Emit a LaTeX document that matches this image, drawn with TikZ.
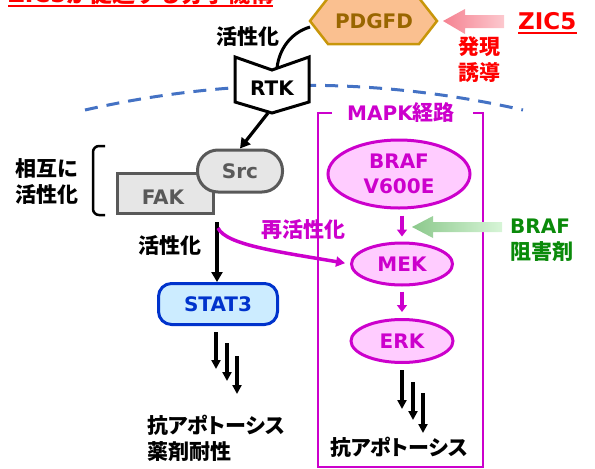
\documentclass[tikz,border=0pt]{standalone}
\usepackage{fontspec}
\setmainfont{DejaVu Sans}
\newfontfamily\jp{Noto Sans CJK JP}
\newfontfamily\jpp{Noto Sans CJK JP}[RawFeature=+palt]
\usetikzlibrary{arrows.meta,shapes.geometric}
\definecolor{mag}{HTML}{CC00CC}
\definecolor{pinkfill}{HTML}{FFCCFF}
\definecolor{pdfill}{HTML}{FAC090}
\definecolor{pdline}{HTML}{C8960A}
\definecolor{pdtext}{HTML}{996600}
\definecolor{grayfill}{HTML}{E6E6E6}
\definecolor{grayline}{HTML}{595959}
\definecolor{statfill}{HTML}{CCECFF}
\definecolor{statline}{HTML}{0033CC}
\definecolor{dashblue}{HTML}{4472C4}
\definecolor{drkgreen}{HTML}{0A8A0A}
\tikzset{
  lat/.style={font=\bfseries\fontsize{20}{25}\selectfont, inner sep=0},
  jtxt/.style={font=\jp\bfseries\fontsize{21}{26}\selectfont, inner sep=0},
  blk/.style={line width=3.2pt, -{Triangle[length=10pt,width=11pt]}},
  tri/.style={line width=3.2pt, -{Triangle[length=9pt,width=9pt]}},
  magarr/.style={mag, line width=3.2pt, -{Triangle[length=7pt,width=10pt]}},
  mapkell/.style={ellipse, fill=pinkfill, draw=mag, line width=3pt, inner sep=0, text=mag, align=center,
    font=\bfseries\fontsize{20}{25}\selectfont},
  grayshape/.style={fill=grayfill, draw=grayline, line width=3pt, inner sep=0}
}
\begin{document}
\begin{tikzpicture}[x=1pt,y=-1pt]
\useasboundingbox (0,0) rectangle (595,469);

% title (cut at top, as in the reference)
\node[anchor=base west, inner sep=0, text=red, font=\bfseries\fontsize{23}{23}\selectfont] (title) at (8,2)
  {ZIC5{\jp が促進する分子機構}};
\draw[red, line width=2pt] (title.base west) ++(0,4) -- ++(265,0);

% blue dashed membrane
\coordinate (memL) at (85,110);
\coordinate (memR) at (523,110);
\draw[dashblue, line width=3pt, dash pattern=on 13pt off 9pt] (memL) .. controls (231,77) and (377,77) .. (memR);

% PDGFD hexagon
\draw[fill=pdfill, draw=pdline, line width=2.5pt] (310,21) -- (328,-2) -- (419,-2) -- (437,21) -- (419,44) -- (328,44) -- cycle;
\node[lat, text=pdtext] (pdgfd) at (374,21) {PDGFD};
\coordinate (pdL) at (310,27);

% ZIC5 and pink arrow
\node[anchor=base west, inner sep=0, text=red, font=\bfseries\fontsize{23}{23}\selectfont] (zic) at (518,29) {ZIC5};
\draw[red, line width=2pt] (zic.base west) ++(0,3.5) -- ++(59,0);
\shade[left color={rgb,255:red,245;green,130;blue,145}, right color={rgb,255:red,252;green,200;blue,206}]
  (443,21) -- (465,9) -- (465,15) -- (504,15) -- (504,28) -- (465,28) -- (465,34) -- cycle;
\node[jtxt, text=red, align=center] (hatsu) at (479,60) {発現\\誘導};

% RTK
\draw[fill=white, line width=3pt, line join=miter] (235,57) -- (272,70) -- (309,57) -- (309,102) -- (272,113) -- (235,102) -- cycle;
\node[lat] (rtk) at (272,88) {RTK};
\coordinate (rtkT) at (277,68);
\coordinate (rtkB) at (268,113);
\node[jtxt] (act1) at (248,36) {活性化};
\draw[line width=3pt] (pdL) .. controls (290,33) and (279,50) .. (rtkT);

% FAK and Src
\node[grayshape, rectangle, minimum width=96pt, minimum height=40pt] (fak) at (165,193) {};
\node[lat, text=grayline] (faktxt) at (163,197) {FAK};
\node[grayshape, rectangle, rounded corners=20.5pt, minimum width=85pt, minimum height=42pt, text=grayline,
  font=\bfseries\fontsize{20}{25}\selectfont] (src) at (240,171) {Src};
\draw[blk] (rtkB) -- (src.north);
\draw[line width=2.5pt, rounded corners=6pt] (105,146) -- (93,146) -- (93,215) -- (105,215);
\node[jtxt, align=left, anchor=west] (mutual) at (15,181.5) {相互に\\活性化};

% STAT3
\node[rectangle, rounded corners=13pt, fill=statfill, draw=statline, line width=3pt, minimum width=119pt,
  minimum height=41pt, text=statline, font=\bfseries\fontsize{20}{25}\selectfont] (stat) at (218,304) {STAT3};
\coordinate (fakB) at (217,222);
\draw[blk] (fakB) -- (stat.north -| fakB);
\node[jtxt] (act2) at (170,245) {活性化};

% MAPK box
\draw[mag, line width=2pt] (332,113) -- (318,113) -- (318,467) -- (483,467) -- (483,113) -- (473,113);
\node[lat, text=mag] (mapk) at (401,113) {MAPK{\jp\fontsize{21}{26}\selectfont 経路}};

\node[mapkell, minimum width=142pt, minimum height=68pt] (braf) at (399,174) {BRAF\\V600E};
\node[mapkell, minimum width=101pt, minimum height=42pt] (mek) at (402,264) {MEK};
\node[mapkell, minimum width=102pt, minimum height=43pt] (erk) at (402,341) {ERK};
\draw[magarr, shorten <=6pt, shorten >=5pt] (braf.south -| mek.north) -- (mek.north);
\draw[magarr, shorten <=5pt, shorten >=6pt] (mek.south) -- (erk.north);

% reactivation
\coordinate (reS) at (218,228);
\draw[mag, line width=3.5pt, -{Triangle[length=9pt,width=10pt]}, shorten >=5pt] (reS) .. controls (226,245) and (280,252) .. (mek.west);
\node[jtxt, text=mag] (react) at (303,230) {再活性化};

% green arrow and inhibitor
\shade[left color={rgb,255:red,140;green,200;blue,140}, right color={rgb,255:red,215;green,245;blue,215}]
  (412,227) -- (433,216) -- (433,222) -- (502,222) -- (502,232) -- (433,232) -- (433,238) -- cycle;
\node[jtxt, text=drkgreen, align=left, anchor=west] (inh) at (510,240) {{\fontspec{DejaVu Sans}\bfseries\fontsize{20}{26}\selectfont BRAF}\\阻害剤};

% triple arrows STAT3
\coordinate (s1a) at (216,332); \coordinate (s1b) at (216,369);
\coordinate (s2a) at (227,343); \coordinate (s2b) at (227,381);
\coordinate (s3a) at (237,356); \coordinate (s3b) at (237,394);
\draw[tri] (s1a) -- (s1b);
\draw[tri] (s2a) -- (s2b);
\draw[tri] (s3a) -- (s3b);
\node[font=\jpp\bfseries\fontsize{21}{26}\selectfont, inner sep=0, align=left, anchor=north west] (out1) at (147,415) {抗アポトーシス\\薬剤耐性};

% triple arrows ERK
\coordinate (e1a) at (402,370); \coordinate (e1b) at (402,409);
\coordinate (e2a) at (413,382); \coordinate (e2b) at (413,420);
\coordinate (e3a) at (423,393); \coordinate (e3b) at (423,433);
\draw[tri] (e1a) -- (e1b);
\draw[tri] (e2a) -- (e2b);
\draw[tri] (e3a) -- (e3b);
\node[font=\jpp\bfseries\fontsize{21}{26}\selectfont, inner sep=0] (out2) at (399,447) {抗アポトーシス};
\end{tikzpicture}
\end{document}
